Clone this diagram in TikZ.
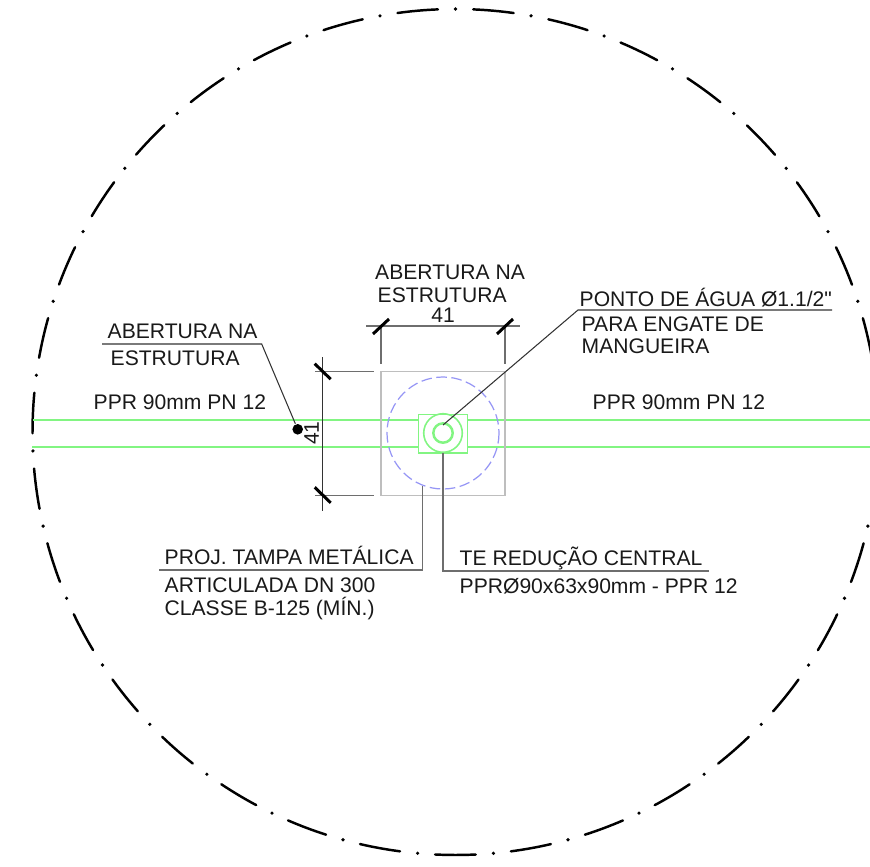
\documentclass[tikz,border=0pt]{standalone}
\usepackage{fontspec}
\newfontfamily\cadfont{Liberation Sans}
\usetikzlibrary{positioning, calc}

\definecolor{pipegreen}{RGB}{130,245,130}
\definecolor{capblue}{RGB}{150,150,245}
\definecolor{leadgray}{RGB}{110,110,110}
\definecolor{boxgray}{RGB}{190,190,190}

\tikzset{
  lbl/.style={anchor=base west, inner sep=0pt, font=\cadfont\fontsize{6.0}{7}\selectfont, text=black!90},
  dim/.style={inner sep=0pt, font=\cadfont\fontsize{6.0}{7}\selectfont, text=black!90},
  pipe/.style={draw=pipegreen, line width=0.35pt},
  lead/.style={draw=leadgray, line width=0.45pt},
  leadblack/.style={draw=black!80, line width=0.3pt},
  tick/.style={draw=black, line width=0.85pt},
  detail/.style={draw=black, line width=0.7pt, line cap=round}
}

\begin{document}
\begin{tikzpicture}[x=0.01cm, y=-0.01cm]
\useasboundingbox (0,0) rectangle (870,867);
\clip (0,0) rectangle (870,867);

% Detail circle
\coordinate (ctr) at (455.5,432);
\foreach \n in {0,...,34} {
  \pgfmathsetmacro{\a}{\n*360/35-90}
  \fill ([shift={(\a:423)}]ctr) circle (1.8);
  \draw[detail] ([shift={(\a+2.4:423)}]ctr) arc[start angle=\a+2.4, delta angle=5.5, radius=423];
}

% Pipe
\coordinate (teeNW) at (418.3,420);
\coordinate (teeNE) at (467.3,420);
\coordinate (teeSW) at (418.3,447);
\coordinate (teeSE) at (467.3,447);
\coordinate (pipeNW) at (33,420);
\coordinate (pipeNE) at (870,420);
\coordinate (pipeSW) at (32,447);
\coordinate (pipeSE) at (870,447);
\draw[pipe] (pipeNW) -- (teeNW);
\draw[pipe] (teeNE) -- (pipeNE);
\draw[pipe] (pipeSW) -- (teeSW);
\draw[pipe] (teeSE) -- (pipeSE);

% Opening and lid
\coordinate (mid) at (443,433);
\node[draw=boxgray, line width=0.45pt, minimum width=1.24cm, minimum height=1.236cm, inner sep=0pt] (opening) at (443,433.5) {};
\draw[capblue, line width=0.35pt, dash pattern=on 3pt off 1.3pt] (mid) circle (56);

% Reducing tee
\node[draw=pipegreen, line width=0.45pt, minimum width=0.49cm, minimum height=0.38cm, inner sep=0pt] (tee) at (442.8,433.7) {};
\draw[pipegreen, line width=0.45pt] (mid) circle (19.3);
\draw[pipegreen, line width=0.7pt] (mid) circle (9.7);

% Dimension above
\coordinate (topL) at (366,326);
\coordinate (topR) at (520,326);
\coordinate (topA) at (381,326);
\coordinate (topB) at (505,326);
\coordinate (topAe) at (381,364);
\coordinate (topBe) at (505,364);
\draw[lead] (topL) -- (topR);
\draw[lead] (topA) -- (topAe);
\draw[lead] (topB) -- (topBe);
\draw[tick] ($(topA)+(-8,8)$) -- ($(topA)+(8,-7)$);
\draw[tick] ($(topB)+(-8,8)$) -- ($(topB)+(8,-7)$);
\node[dim] (widthval) at (443,315) {41};

% Dimension at left
\coordinate (sideT) at (322.7,357);
\coordinate (sideB) at (322.7,511);
\coordinate (sideA) at (315,371.7);
\coordinate (sideC) at (315,495.3);
\coordinate (sideAe) at (374,371.7);
\coordinate (sideCe) at (374,495.3);
\coordinate (sideAt) at (322.7,371.7);
\coordinate (sideCt) at (322.7,495.3);
\draw[leadblack] (sideT) -- (sideB);
\draw[lead] (sideA) -- (sideAe);
\draw[lead] (sideC) -- (sideCe);
\draw[tick] ($(sideAt)+(-8,-8)$) -- ($(sideAt)+(8,7.5)$);
\draw[tick] ($(sideCt)+(-8,-8)$) -- ($(sideCt)+(8,7.5)$);
\node[dim, rotate=90] (heightval) at (311.5,433) {41};

% Texts
\node[lbl] (openT1) at (374.5,279) {ABERTURA NA};
\node[lbl] (openT2) at (377,302) {ESTRUTURA};
\node[lbl] (openL1) at (107,338) {ABERTURA NA};
\node[lbl] (openL2) at (110,365) {ESTRUTURA};
\node[lbl] (pipeL) at (93,409) {PPR 90mm PN 12};
\node[lbl] (pipeR) at (592,409) {PPR 90mm PN 12};
\node[lbl] (pointA) at (579,306) {PONTO DE ÁGUA Ø1.1/2"};
\node[lbl] (pointB) at (581,331) {PARA ENGATE DE};
\node[lbl] (pointC) at (581,353) {MANGUEIRA};
\node[lbl] (lidA) at (164,564) {PROJ. TAMPA METÁLICA};
\node[lbl] (lidB) at (164,592) {ARTICULADA DN 300};
\node[lbl] (lidC) at (164,615) {CLASSE B-125 (MÍN.)};
\node[lbl] (teeA) at (459,565) {TE REDUÇÃO CENTRAL};
\node[lbl] (teeB) at (459,593) {PPRØ90x63x90mm - PPR 12};

% Leaders
\node[circle, fill=black, minimum size=0.106cm, inner sep=0pt] (dot) at (297.7,429.3) {};
\coordinate (openS) at (102,344);
\coordinate (openE) at (261.7,344);
\draw[leadblack] (openS) -- (openE) -- (dot);
\coordinate (pointS) at (832,310);
\coordinate (pointE) at (578,310);
\coordinate (pointT) at (443,425);
\draw[leadblack] (pointS) -- (pointE) -- (pointT);
\coordinate (lidS) at (159,570);
\coordinate (lidE) at (422.7,570);
\coordinate (lidT) at (422.7,486);
\draw[lead] (lidS) -- (lidE) -- (lidT);
\coordinate (teeS) at (709,571);
\coordinate (teeE) at (443,571);
\coordinate (teeT) at (443,452.7);
\draw[lead] (teeS) -- (teeE) -- (teeT);
\end{tikzpicture}
\end{document}
